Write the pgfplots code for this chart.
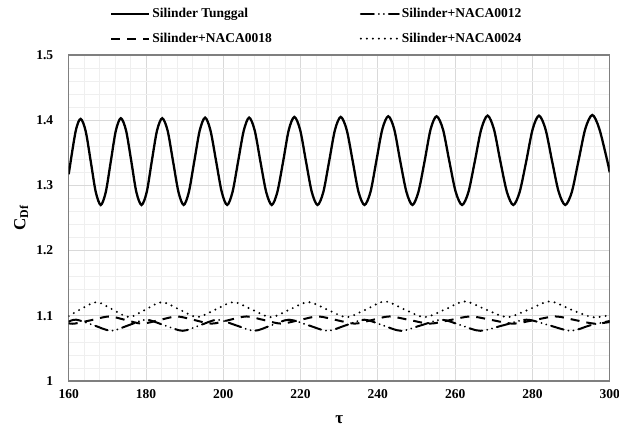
\documentclass[border=0pt]{standalone}
\usepackage{fontspec}
\setmainfont{Liberation Serif}
\usepackage{pgfplots}
\pgfplotsset{compat=1.18}
\definecolor{gridmaj}{HTML}{D9D9D9}
\definecolor{gridmin}{HTML}{EFEFEF}
\definecolor{frame}{HTML}{7F7F7F}

\begin{document}
\begin{tikzpicture}
\begin{axis}[
    name=ax,
    scale only axis,
    width=541pt, height=326pt,
    xmin=160, xmax=300, ymin=1, ymax=1.5,
    xtick={160,180,200,220,240,260,280,300},
    ytick={1,1.1,1.2,1.3,1.4,1.5},
    minor x tick num=4, minor y tick num=4,
    grid=both,
    major grid style={gridmaj, line width=0.8pt},
    minor grid style={gridmin, line width=0.6pt},
    axis line style={frame, line width=1.5pt},
    tick style={draw=none},
    /pgf/number format/assume math mode=true,
    ticklabel style={font=\bfseries\fontsize{13.5}{14}\selectfont},
    yticklabel style={xshift=-12pt},
    xticklabel style={yshift=-5pt},
    xlabel={τ},
    xlabel style={font=\bfseries\fontsize{17}{17}\selectfont,
        at={(axis description cs:0.5,-0.12)}, anchor=center},
    ylabel={C\textsubscript{Df}},
    ylabel style={font=\bfseries\fontsize{17}{17}\selectfont,
        at={(axis description cs:-0.088,0.5)}, anchor=center},
    legend columns=2,
    legend cell align=left,
    legend image code/.code={\draw[#1] (0pt,0pt) -- (38pt,0pt);},
    legend style={draw=none, fill=none, inner sep=0pt,
        at={(axis description cs:0.076,1.15)}, anchor=north west,
        font=\bfseries\fontsize{13.5}{14}\selectfont,
        row sep=10pt,
        /tikz/every odd column/.append style={column sep=0pt},
        /tikz/every even column/.append style={column sep=86pt}},
    every axis plot/.append style={smooth},
]

% Silinder Tunggal
\addplot[black, line width=2.3pt] coordinates {
(160,1.317) (161.8,1.383) (163.1,1.402) (164.4,1.383) (165.7,1.337)
(167.0,1.290) (168.3,1.270) (169.6,1.290) (170.9,1.337)
(172.2,1.384) (173.5,1.403) (174.85,1.384) (176.2,1.337)
(177.5,1.290) (178.85,1.270) (180.2,1.290) (181.5,1.337)
(182.85,1.384) (184.2,1.403) (185.6,1.384) (187.0,1.337)
(188.4,1.290) (189.75,1.270) (191.1,1.290) (192.5,1.337)
(193.9,1.384) (195.3,1.404) (196.7,1.384) (198.15,1.337)
(199.6,1.290) (201.0,1.270) (202.4,1.290) (203.85,1.337)
(205.3,1.384) (206.7,1.404) (208.15,1.384) (209.6,1.337)
(211.1,1.290) (212.55,1.270) (214.0,1.290) (215.5,1.337)
(216.95,1.385) (218.4,1.405) (219.9,1.385) (221.4,1.337)
(222.9,1.290) (224.4,1.270) (225.9,1.290) (227.4,1.337)
(228.9,1.385) (230.4,1.405) (231.95,1.385) (233.5,1.337)
(235.0,1.290) (236.55,1.270) (238.1,1.290) (239.6,1.337)
(241.15,1.386) (242.7,1.406) (244.25,1.386) (245.8,1.337)
(247.4,1.290) (248.95,1.270) (250.5,1.290) (252.1,1.337)
(253.65,1.386) (255.2,1.406) (256.85,1.386) (258.5,1.337)
(260.15,1.290) (261.8,1.270) (263.45,1.290) (265.1,1.337)
(266.75,1.386) (268.4,1.407) (270.05,1.386) (271.7,1.337)
(273.4,1.290) (275.05,1.270) (276.7,1.290) (278.4,1.337)
(280.05,1.386) (281.7,1.407) (283.4,1.386) (285.1,1.337)
(286.8,1.290) (288.5,1.270) (290.2,1.290) (291.9,1.337)
(293.7,1.387) (295.5,1.408) (297.3,1.387) (299.4,1.337)
(300,1.320)
};
\addlegendentry{Silinder Tunggal}

% Silinder+NACA0012
\addplot[black, line width=2pt, line cap=round,
    dash pattern=on 13pt off 5pt on 0.01pt off 5pt on 0.01pt off 5pt] coordinates {
(160,1.091) (162,1.094) (166.5,1.0855) (171,1.077) (175.5,1.0855)
(180,1.094) (184.75,1.0855) (189.5,1.077) (194,1.0855)
(198.5,1.094) (203.25,1.0855) (208,1.077) (212.5,1.0855)
(217,1.094) (222,1.0855) (227,1.077) (231.75,1.0855)
(236.5,1.094) (241.25,1.0855) (246,1.077) (251.25,1.0855)
(256.5,1.094) (261.5,1.0855) (266.5,1.077) (272.5,1.0855)
(278.5,1.094) (284.25,1.0855) (290,1.077) (295,1.0855)
(300,1.092)
};
\addlegendentry{Silinder+NACA0012}

% Silinder+NACA0018
\addplot[black, line width=2pt, dash pattern=on 9pt off 7pt] coordinates {
(160,1.0885) (161.5,1.088) (166,1.0935) (170.5,1.099) (174.75,1.0935)
(179,1.088) (183.5,1.0935) (188,1.099) (192.5,1.0935)
(197,1.088) (201.5,1.0935) (206,1.099) (210.5,1.0935)
(215,1.088) (219.75,1.0935) (224.5,1.099) (229.25,1.0935)
(234,1.088) (238.5,1.0935) (243,1.099) (248.25,1.0935)
(253.5,1.088) (258.75,1.0935) (264,1.099) (269.5,1.0935)
(275,1.088) (280.5,1.0935) (286,1.099) (291,1.0935)
(296,1.088) (300,1.0905)
};
\addlegendentry{Silinder+NACA0018}

% Silinder+NACA0024
\addplot[black, line width=2.2pt, line cap=round,
    dash pattern=on 0pt off 6pt] coordinates {
(160,1.0995) (162.9,1.1095) (167.2,1.121) (171.4,1.1095)
(175.6,1.098) (179.85,1.1095) (184.1,1.121) (188.7,1.1095)
(193.3,1.098) (197.95,1.1095) (202.6,1.121) (207.45,1.1095)
(212.3,1.098) (217.15,1.1095) (222.0,1.121) (226.95,1.1095)
(231.9,1.098) (236.85,1.1095) (241.8,1.122) (246.95,1.1095)
(252.1,1.098) (257.3,1.1095) (262.5,1.122) (268,1.1095)
(273.5,1.098) (279,1.1095) (284.5,1.122) (290,1.1095)
(295.5,1.098) (300,1.101)
};
\addlegendentry{Silinder+NACA0024}

\end{axis}
\pgfresetboundingbox
\path (ax.south west) ++(-68.7pt,-52pt) rectangle ++(619pt,433pt);
\end{tikzpicture}
\end{document}
